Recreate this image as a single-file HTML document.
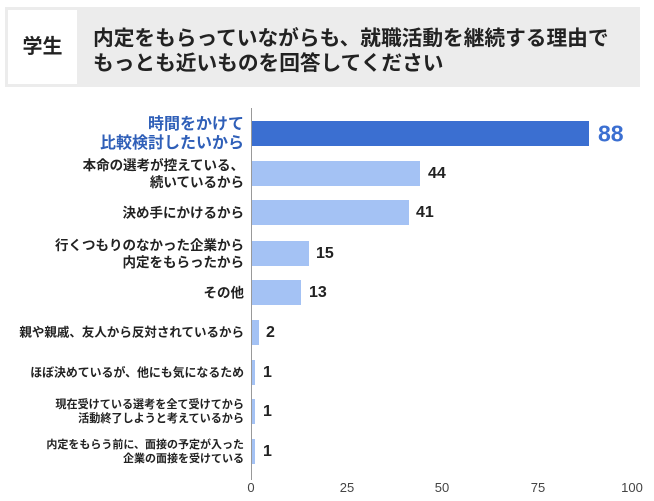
<!DOCTYPE html>
<html><head><meta charset="utf-8"><style>
body{margin:0;width:654px;height:501px;background:#fff;font-family:"Liberation Sans","Noto Sans CJK JP",sans-serif;position:relative;overflow:hidden}
.hdr{position:absolute;left:5px;top:7px;width:635px;height:80px;background:#ececec}
.tag{position:absolute;left:8px;top:10px;width:69px;height:74px;background:#fff;font-weight:bold;font-size:20px;line-height:74px;text-align:center;color:#222}
.ttl{position:absolute;left:93px;top:26px;font-weight:bold;font-size:20.7px;line-height:25px;color:#222;white-space:nowrap}
.bar{position:absolute;left:252px;height:25px;background:#a4c2f4}
.lab{position:absolute;right:410px;font-weight:bold;font-size:13.5px;line-height:17px;text-align:right;color:#222;transform:translateY(-50%);white-space:nowrap}
.val{position:absolute;font-weight:bold;font-size:16px;color:#222;transform:translateY(-50%)}
.tk{position:absolute;top:480px;font-size:13px;color:#444;transform:translateX(-50%)}
</style></head><body>
<div class="hdr"></div><div class="tag">学生</div>
<div class="ttl">内定をもらっていながらも、就職活動を継続する理由で<br>もっとも近いものを回答してください</div>
<div style="position:absolute;left:251px;top:108px;width:1px;height:372px;background:#999"></div>
<div class="bar" style="top:121px;width:337px;background:#3b6fd1"></div>
<div class="lab" style="top:134px;color:#2f5fb8;font-size:16px;line-height:19px">時間をかけて<br>比較検討したいから</div>
<div class="val" style="top:134px;left:598px;font-size:23px;color:#3b6fd1">88</div>
<div class="bar" style="top:161px;width:168px"></div>
<div class="lab" style="top:174px">本命の選考が控えている、<br>続いているから</div>
<div class="val" style="top:174px;left:428px">44</div>
<div class="bar" style="top:200px;width:157px"></div>
<div class="lab" style="top:213px">決め手にかけるから</div>
<div class="val" style="top:213px;left:416px">41</div>
<div class="bar" style="top:241px;width:57px"></div>
<div class="lab" style="top:254px">行くつもりのなかった企業から<br>内定をもらったから</div>
<div class="val" style="top:254px;left:316px">15</div>
<div class="bar" style="top:280px;width:49px"></div>
<div class="lab" style="top:293px">その他</div>
<div class="val" style="top:293px;left:309px">13</div>
<div class="bar" style="top:320px;width:7px"></div>
<div class="lab" style="top:333px;font-size:12.5px">親や親戚、友人から反対されているから</div>
<div class="val" style="top:333px;left:266px">2</div>
<div class="bar" style="top:360px;width:3px"></div>
<div class="lab" style="top:373px;font-size:11.9px">ほぼ決めているが、他にも気になるため</div>
<div class="val" style="top:373px;left:263px">1</div>
<div class="bar" style="top:399px;width:3px"></div>
<div class="lab" style="top:412px;font-size:11.1px;line-height:14px">現在受けている選考を全て受けてから<br>活動終了しようと考えているから</div>
<div class="val" style="top:412px;left:263px">1</div>
<div class="bar" style="top:439px;width:3px"></div>
<div class="lab" style="top:452px;font-size:11px;line-height:14px">内定をもらう前に、面接の予定が入った<br>企業の面接を受けている</div>
<div class="val" style="top:452px;left:263px">1</div>
<div class="tk" style="left:251px">0</div>
<div class="tk" style="left:347px">25</div>
<div class="tk" style="left:442px">50</div>
<div class="tk" style="left:538px">75</div>
<div class="tk" style="left:632px">100</div>
</body></html>
